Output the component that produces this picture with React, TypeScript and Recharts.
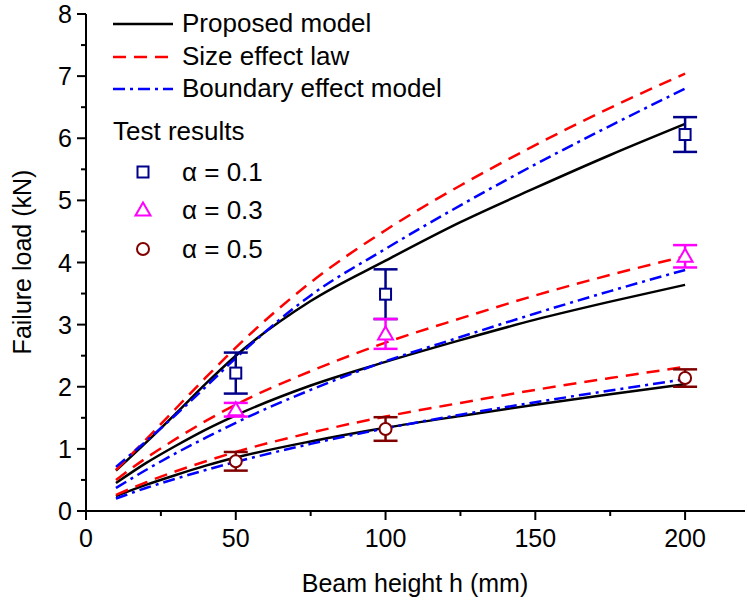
import React from 'react';
import { ComposedChart, Line, Scatter, XAxis, YAxis, ErrorBar } from 'recharts';

// beam heights (mm) where the model curves were read
const H = [10, 20, 30, 40, 50, 75, 100, 125, 150, 175, 200];

// alpha = 0.1
const proposed01 = [0.65, 1.1, 1.57, 2.05, 2.5, 3.38, 4.03, 4.65, 5.2, 5.73, 6.23];
const sizeLaw01 = [0.66, 1.15, 1.65, 2.15, 2.63, 3.68, 4.52, 5.24, 5.89, 6.49, 7.04];
const boundary01 = [0.71, 1.12, 1.55, 2.0, 2.46, 3.47, 4.22, 4.92, 5.58, 6.2, 6.8];
// alpha = 0.3
const proposed03 = [0.45, 0.77, 1.05, 1.31, 1.54, 2.02, 2.4, 2.75, 3.08, 3.37, 3.64];
const sizeLaw03 = [0.5, 0.85, 1.16, 1.45, 1.71, 2.25, 2.71, 3.1, 3.47, 3.8, 4.1];
const boundary03 = [0.37, 0.66, 0.93, 1.18, 1.42, 1.95, 2.41, 2.8, 3.18, 3.54, 3.88];
// alpha = 0.5
const proposed05 = [0.24, 0.42, 0.58, 0.73, 0.86, 1.12, 1.34, 1.53, 1.71, 1.88, 2.04];
const sizeLaw05 = [0.26, 0.46, 0.64, 0.8, 0.95, 1.26, 1.52, 1.74, 1.95, 2.14, 2.32];
const boundary05 = [0.2, 0.37, 0.52, 0.66, 0.79, 1.08, 1.33, 1.55, 1.75, 1.94, 2.12];

// test results
const testH = [50, 100, 200];
const test01 = [2.22, 3.49, 6.06];
const err01 = [0.33, 0.4, 0.28];
const test03 = [1.63, 2.85, 4.1];
const err03 = [0.11, 0.24, 0.18];
const test05 = [0.8, 1.32, 2.14];
const err05 = [0.15, 0.19, 0.14];

const xTicks = [0, 25, 50, 75, 100, 125, 150, 175, 200];
const yTicks = [0, 0.5, 1, 1.5, 2, 2.5, 3, 3.5, 4, 4.5, 5, 5.5, 6, 6.5, 7, 7.5, 8];

const FONT = '"Liberation Sans", Arial, Helvetica, sans-serif';
const NAVY = '#00008b';
const MAGENTA = '#ff00ff';
const WINE = '#800000';

const curve = (ys: number[]) => H.map((h, i) => ({ h, y: ys[i] }));
const tests = (ys: number[], errs: number[]) => testH.map((h, i) => ({ h, y: ys[i], err: errs[i] }));

const XTick = ({ x, y, payload }: any) => {
  const major = payload.value % 50 === 0;
  return (
    <g>
      <line x1={x} x2={x} y1={y} y2={y + (major ? 9 : 5)} stroke="#000" strokeWidth={2} />
      {major && (
        <text x={x} y={y + 36} textAnchor="middle" fontSize={25} fontFamily={FONT} fill="#000">
          {payload.value}
        </text>
      )}
    </g>
  );
};

const YTick = ({ x, y, payload }: any) => {
  const major = payload.value % 1 === 0;
  return (
    <g>
      <line x1={x} x2={x - (major ? 9 : 5)} y1={y} y2={y} stroke="#000" strokeWidth={2} />
      {major && (
        <text x={x - 14} y={y + 9} textAnchor="end" fontSize={25} fontFamily={FONT} fill="#000">
          {payload.value}
        </text>
      )}
    </g>
  );
};

const Square = ({ cx, cy, stroke }: any) => (
  <rect x={cx - 5.5} y={cy - 5.5} width={11} height={11} fill="#fff" stroke={stroke} strokeWidth={2} />
);
const Triangle = ({ cx, cy, stroke }: any) => (
  <path d={`M${cx},${cy - 7.5} L${cx + 7.5},${cy + 5.5} L${cx - 7.5},${cy + 5.5} Z`} fill="#fff" stroke={stroke} strokeWidth={2} />
);
const Circle = ({ cx, cy, stroke }: any) => (
  <circle cx={cx} cy={cy} r={6} fill="#fff" stroke={stroke} strokeWidth={2} />
);

const lineStyles = {
  proposed: { stroke: '#000', strokeDasharray: undefined },
  size: { stroke: '#ff0000', strokeDasharray: '13 8' },
  boundary: { stroke: '#0000ff', strokeDasharray: '12 5 3 5' },
};

const Legend = () => {
  const rows = [
    { key: 'proposed', label: 'Proposed model', y: 24 },
    { key: 'size', label: 'Size effect law', y: 57 },
    { key: 'boundary', label: 'Boundary effect model', y: 89 },
  ] as const;
  const marks = [
    { label: 'α = 0.1', y: 172, shape: <Square cx={143} cy={172} stroke={NAVY} /> },
    { label: 'α = 0.3', y: 210, shape: <Triangle cx={143} cy={210} stroke={MAGENTA} /> },
    { label: 'α = 0.5', y: 249, shape: <Circle cx={143} cy={249} stroke={WINE} /> },
  ];
  return (
    <svg width={747} height={603} style={{ position: 'absolute', left: 0, top: 0, pointerEvents: 'none' }}>
      <g fontFamily={FONT} fill="#000">
        <g fontSize={26}>
          {rows.map((r) => (
            <g key={r.key}>
              <line x1={113} x2={173} y1={r.y} y2={r.y} strokeWidth={2.5}
                stroke={lineStyles[r.key].stroke} strokeDasharray={lineStyles[r.key].strokeDasharray} />
              <text x={182} y={r.y + 8}>{r.label}</text>
            </g>
          ))}
          <text x={113} y={140}>Test results</text>
          {marks.map((m) => (
            <g key={m.label}>
              {m.shape}
              <text x={182} y={m.y + 9}>{m.label}</text>
            </g>
          ))}
        </g>
        <g fontSize={25}>
          <text x={415} y={592} textAnchor="middle">Beam height h (mm)</text>
          <text x={31} y={262} textAnchor="middle" transform="rotate(-90 31 262)">Failure load (kN)</text>
        </g>
      </g>
    </svg>
  );
};

const curves = [
  { id: 'p01', data: proposed01, kind: 'proposed' },
  { id: 's01', data: sizeLaw01, kind: 'size' },
  { id: 'b01', data: boundary01, kind: 'boundary' },
  { id: 'p03', data: proposed03, kind: 'proposed' },
  { id: 's03', data: sizeLaw03, kind: 'size' },
  { id: 'b03', data: boundary03, kind: 'boundary' },
  { id: 'p05', data: proposed05, kind: 'proposed' },
  { id: 's05', data: sizeLaw05, kind: 'size' },
  { id: 'b05', data: boundary05, kind: 'boundary' },
] as const;

export default function App() {
  return (
    <div style={{ position: 'absolute', left: 0, top: 0, width: 747, height: 603, background: '#fff' }}>
      <ComposedChart width={747} height={603} margin={{ top: 14, right: 2, left: 0, bottom: 0 }}>
        <XAxis
          dataKey="h"
          type="number"
          domain={[0, 220]}
          ticks={xTicks}
          interval={0}
          tickSize={0}
          tickMargin={0}
          height={92}
          axisLine={{ stroke: '#000', strokeWidth: 2 }}
          tickLine={false}
          tick={<XTick />}
          allowDataOverflow
        />
        <YAxis
          type="number"
          domain={[0, 8]}
          ticks={yTicks}
          interval={0}
          tickSize={0}
          tickMargin={0}
          width={86}
          axisLine={{ stroke: '#000', strokeWidth: 2 }}
          tickLine={false}
          tick={<YTick />}
          allowDataOverflow
        />
        {curves.map((c) => (
          <Line
            key={c.id}
            data={curve(c.data as unknown as number[])}
            dataKey="y"
            type="monotone"
            dot={false}
            activeDot={false}
            strokeWidth={2.5}
            stroke={lineStyles[c.kind].stroke}
            strokeDasharray={lineStyles[c.kind].strokeDasharray}
            isAnimationActive={false}
          />
        ))}
        <Scatter data={tests(test01, err01)} dataKey="y" stroke={NAVY} shape={<Square />} isAnimationActive={false}>
          <ErrorBar dataKey="err" direction="y" width={12} stroke={NAVY} strokeWidth={2.5} />
        </Scatter>
        <Scatter data={tests(test03, err03)} dataKey="y" stroke={MAGENTA} shape={<Triangle />} isAnimationActive={false}>
          <ErrorBar dataKey="err" direction="y" width={12} stroke={MAGENTA} strokeWidth={2.5} />
        </Scatter>
        <Scatter data={tests(test05, err05)} dataKey="y" stroke={WINE} shape={<Circle />} isAnimationActive={false}>
          <ErrorBar dataKey="err" direction="y" width={12} stroke={WINE} strokeWidth={2.5} />
        </Scatter>
      </ComposedChart>
      <Legend />
    </div>
  );
}
